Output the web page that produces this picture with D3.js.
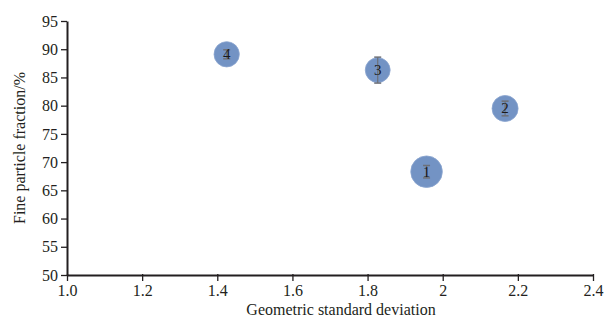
<!DOCTYPE html>
<html><head><meta charset="utf-8">
<script src="https://cdn.jsdelivr.net/npm/d3@7"></script>
<style>body{margin:0;background:#fff}svg{display:block}text{font-family:"Liberation Serif","Times New Roman",serif}</style>
</head><body><svg id="c" width="606" height="320"></svg>
<script>
const labels = ["1","2","3","4"];
const gsd = [1.957, 2.166, 1.827, 1.425];
const fineFraction = [68.3, 79.5, 86.3, 89.1];
const errY = [1.1, 1.3, 2.3, 0.8];
const bubbleSize = [250, 170, 155, 160];
const xTicks = [1.0,1.2,1.4,1.6,1.8,2.0,2.2,2.4];
const xTickLabels = ["1.0","1.2","1.4","1.6","1.8","2","2.2","2.4"];
const yTicks = [50,55,60,65,70,75,80,85,90,95];

const svg = d3.select("#c");
const m = {l:67, r:13, t:21, b:45};
const W = 606, H = 320;
const x = d3.scaleLinear().domain([1.0,2.4]).range([m.l, W-m.r]);
const y = d3.scaleLinear().domain([50,95]).range([H-m.b, m.t]);
const r = d3.scaleSqrt().domain([0,250]).range([0,15.8]);

const xa = svg.append("g").attr("transform",`translate(0,${H-m.b})`)
  .call(d3.axisBottom(x).tickValues(xTicks).tickFormat((d,i)=>xTickLabels[i]).tickSize(6).tickSizeOuter(0).tickPadding(4));
const ya = svg.append("g").attr("transform",`translate(${m.l},0)`)
  .call(d3.axisLeft(y).tickValues(yTicks).tickSize(6).tickSizeOuter(0).tickPadding(3));
[xa,ya].forEach(a=>{
  a.selectAll("path").attr("stroke","#231f20").attr("stroke-width",2);
  a.selectAll("line").attr("stroke","#231f20").attr("stroke-width",1.3);
  a.selectAll("text").attr("fill","#231f20").style("font-size","16px");
});
xa.selectAll(".tick line").attr("y1",-1).attr("y2",6);

svg.append("text").attr("x",341).attr("y",H-5).attr("text-anchor","middle")
  .attr("fill","#231f20").style("font-size","16px").text("Geometric standard deviation");
svg.append("text").attr("transform",`translate(25,${(m.t+H-m.b)/2}) rotate(-90)`).attr("text-anchor","middle")
  .attr("fill","#231f20").style("font-size","16px").text("Fine particle fraction/%");

const data = labels.map((l,i)=>({l, x:gsd[i], y:fineFraction[i], e:errY[i], s:bubbleSize[i]}));
const g = svg.append("g");
g.selectAll("circle").data(data).join("circle")
  .attr("cx",d=>x(d.x)).attr("cy",d=>y(d.y)).attr("r",d=>r(d.s))
  .attr("fill","#7393c4").attr("stroke","#8aa5cf").attr("stroke-width",0.8);
const eb = g.selectAll("g.eb").data(data).join("g").attr("class","eb");
eb.append("line").attr("x1",d=>x(d.x)).attr("x2",d=>x(d.x))
  .attr("y1",d=>y(d.y-d.e)).attr("y2",d=>y(d.y+d.e)).attr("stroke","#6d7078").attr("stroke-width",1.2);
eb.append("line").attr("x1",d=>x(d.x)-3.5).attr("x2",d=>x(d.x)+3.5)
  .attr("y1",d=>y(d.y+d.e)).attr("y2",d=>y(d.y+d.e)).attr("stroke","#6d7078").attr("stroke-width",1.5);
eb.append("line").attr("x1",d=>x(d.x)-3.5).attr("x2",d=>x(d.x)+3.5)
  .attr("y1",d=>y(d.y-d.e)).attr("y2",d=>y(d.y-d.e)).attr("stroke","#6d7078").attr("stroke-width",1.5);
g.selectAll("text.lb").data(data).join("text").attr("class","lb")
  .attr("x",d=>x(d.x)).attr("y",d=>y(d.y)+5).attr("text-anchor","middle")
  .attr("fill","#1a1a1a").style("font-size","15px").text(d=>d.l);
</script></body></html>
